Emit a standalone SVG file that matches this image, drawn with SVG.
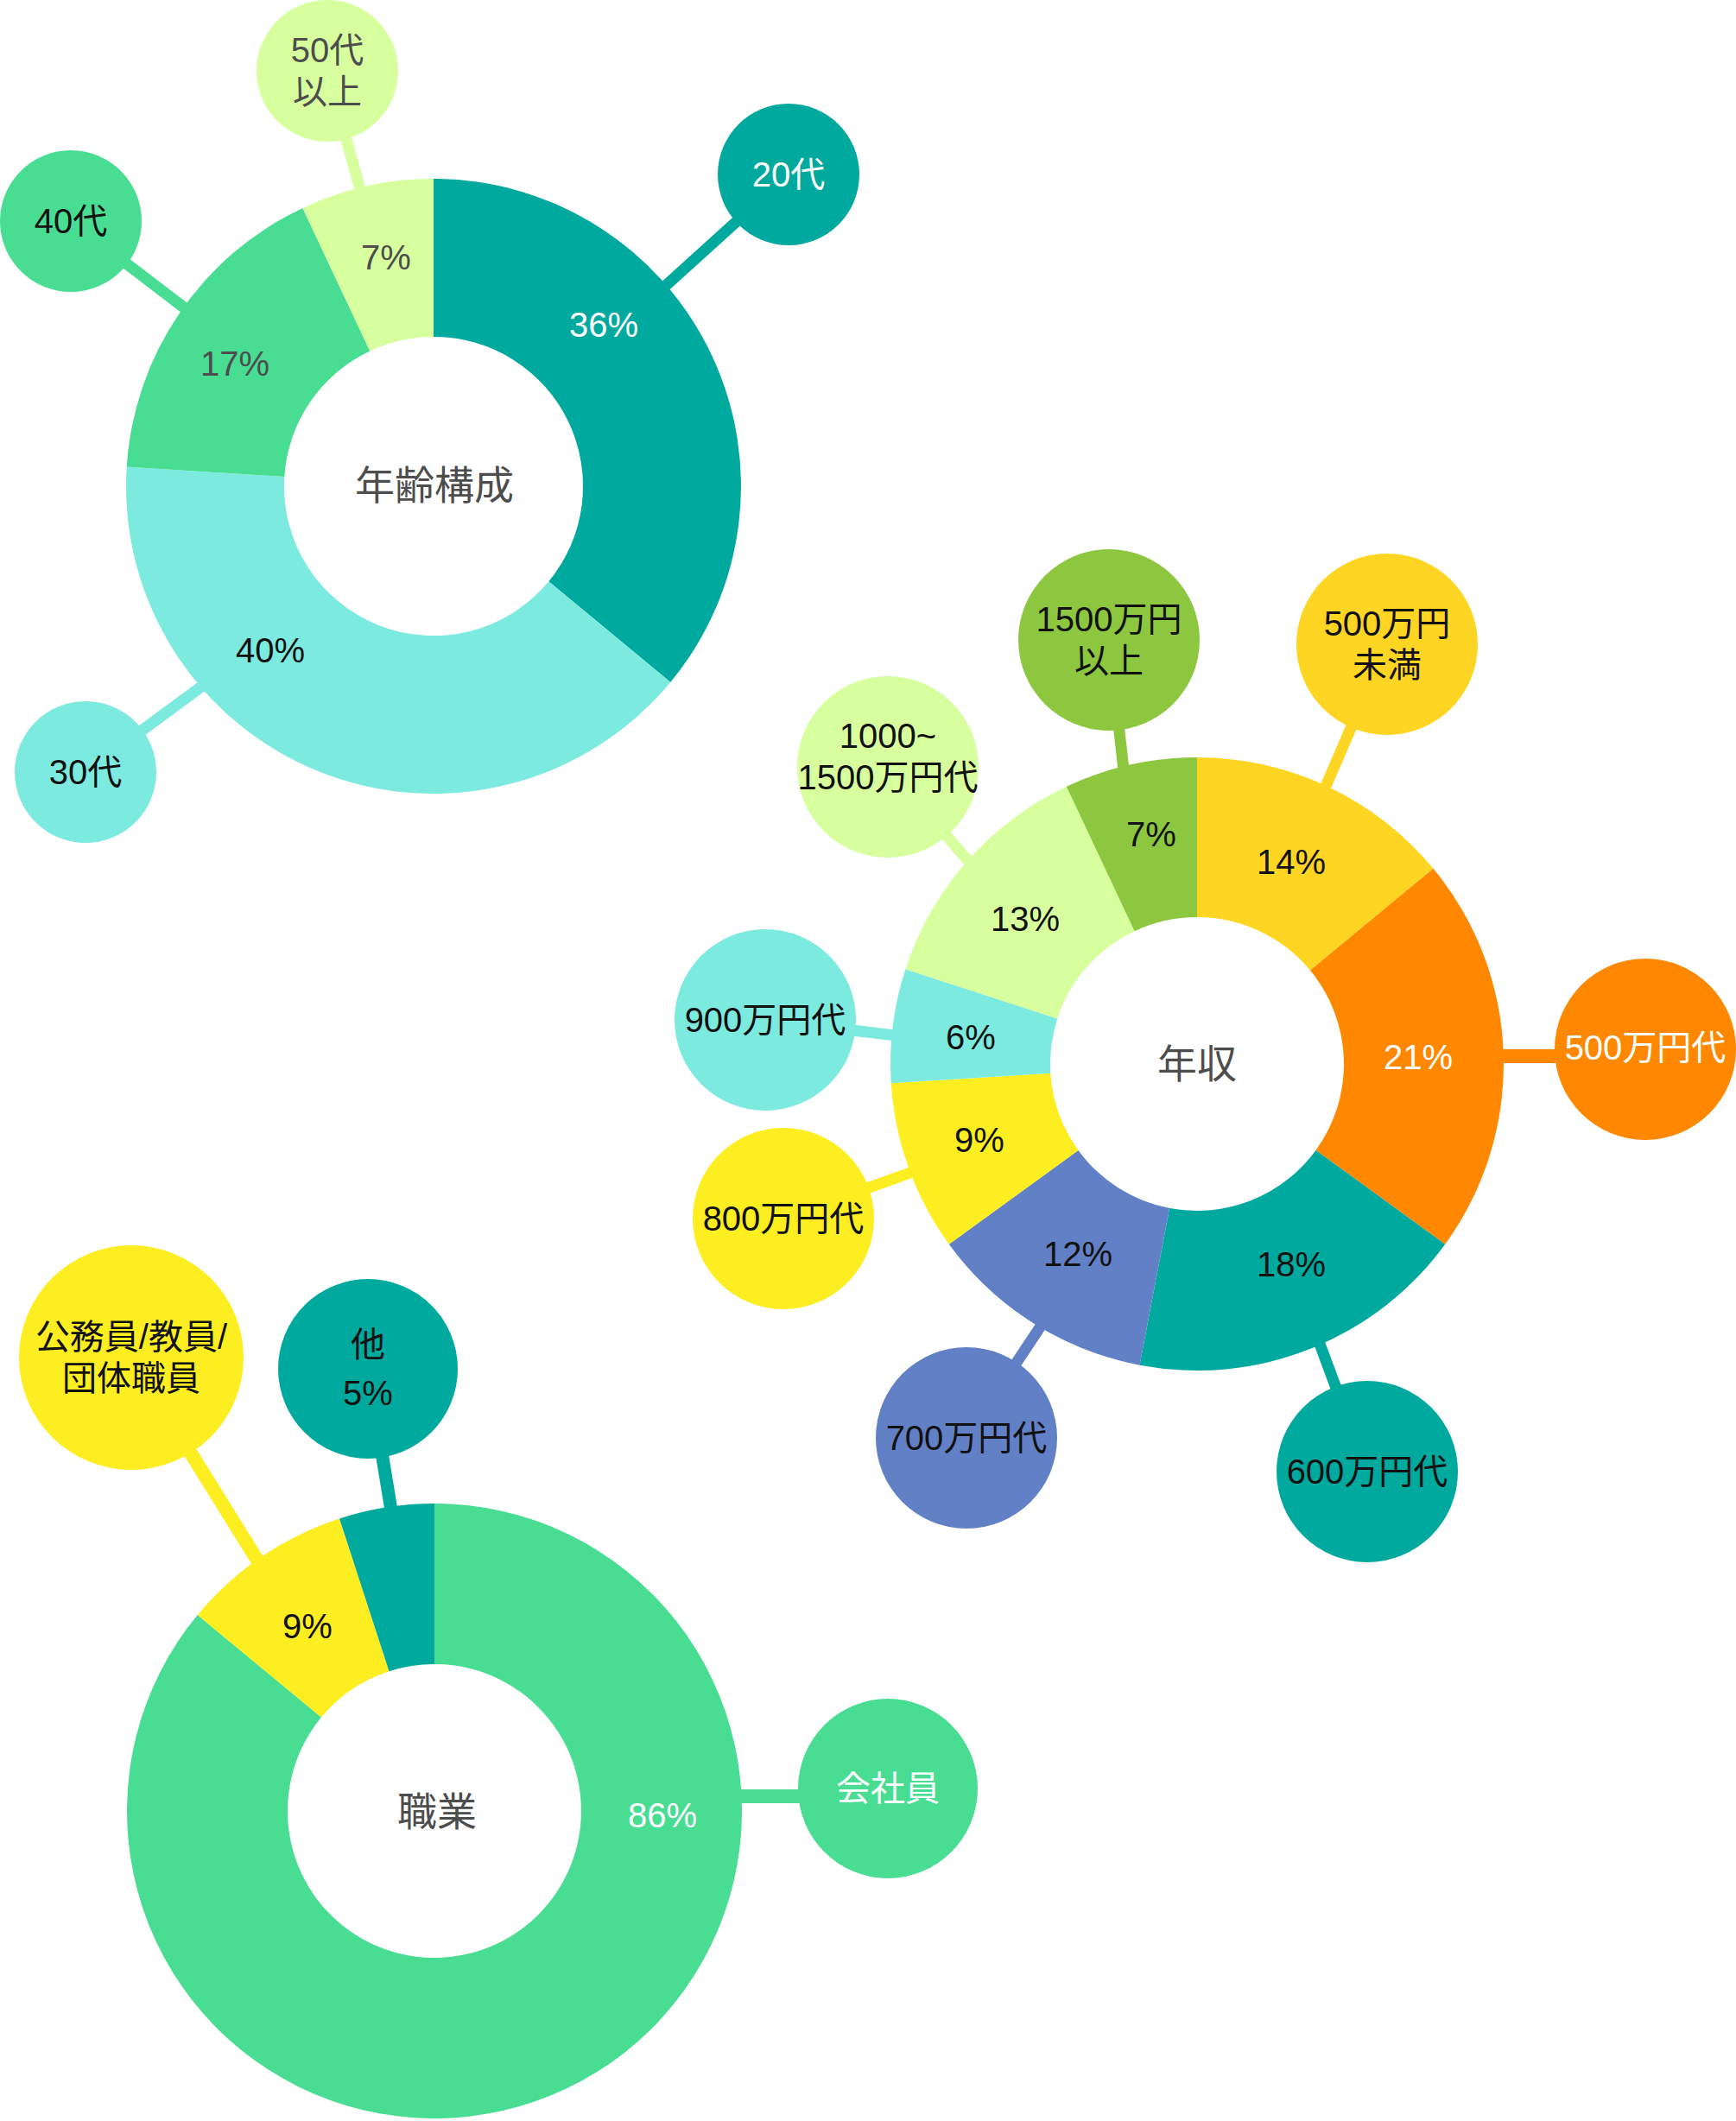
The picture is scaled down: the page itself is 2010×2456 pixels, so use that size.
<svg xmlns="http://www.w3.org/2000/svg" width="2010" height="2456" viewBox="0 0 2010 2456">
<style>
text{font-family:"Liberation Sans","Noto Sans CJK JP",sans-serif;font-size:40px;text-anchor:middle;dominant-baseline:central;fill:#111}
.g{fill:#4d4d4d}.w{fill:#fff}.c{font-size:46px;fill:#4d4d4d}
line{stroke-width:13}
</style>
<rect width="2010" height="2456" fill="#fff"/>
<g id="connectors">
<line x1="913" y1="202" x2="765" y2="336" stroke="#00A99D"/>
<line x1="379" y1="82" x2="420" y2="230" stroke="#D7FF9E"/>
<line x1="82" y1="256" x2="222" y2="363" stroke="#48DD93"/>
<line x1="99" y1="894" x2="240" y2="790" stroke="#7DEADF"/>
<line x1="1284" y1="741" x2="1302" y2="900" stroke="#8DC63F"/>
<line x1="1606" y1="746" x2="1530" y2="922" stroke="#FFD524"/>
<line x1="1028" y1="888" x2="1132" y2="1010" stroke="#D7FF9E"/>
<line x1="886" y1="1181" x2="1045" y2="1200" stroke="#7DEADF"/>
<line x1="907" y1="1411" x2="1065" y2="1354" stroke="#FCEE21"/>
<line x1="1119" y1="1665" x2="1210" y2="1528" stroke="#6280C6"/>
<line x1="1583" y1="1704" x2="1525" y2="1548" stroke="#00A99D"/>
<line x1="1905" y1="1223" x2="1730" y2="1223" stroke="#FF8800" style="stroke-width:16"/>
<line x1="426" y1="1585" x2="454" y2="1755" stroke="#00A99D" style="stroke-width:15"/>
<line x1="152" y1="1572" x2="305" y2="1818" stroke="#FCEE21" style="stroke-width:16"/>
<line x1="1028" y1="2080" x2="850" y2="2080" stroke="#48DD93" style="stroke-width:16"/>
</g>
<g id="age">
<path d="M502,207 A356,356 0 0 1 776.3,789.9 L635.3,673.3 A173,173 0 0 0 502,390 Z" fill="#00A99D"/>
<path d="M776.3,789.9 A356,356 0 0 1 146.7,540.6 L329.3,552.1 A173,173 0 0 0 635.3,673.3 Z" fill="#7DEADF"/>
<path d="M146.7,540.6 A356,356 0 0 1 350.4,240.9 L428.3,406.5 A173,173 0 0 0 329.3,552.1 Z" fill="#48DD93"/>
<path d="M350.4,240.9 A356,356 0 0 1 502,207 L502,390 A173,173 0 0 0 428.3,406.5 Z" fill="#D7FF9E"/>
<text x="699" y="376" class="w">36%</text>
<text x="447" y="298" class="g">7%</text>
<text x="272" y="421" class="g">17%</text>
<text x="313" y="753">40%</text>
<text x="503" y="562" class="c">年齢構成</text>
</g>
<g id="b20"><circle cx="913" cy="202" r="82" fill="#00A99D"/><text x="913" y="202" class="w">20代</text></g>
<g id="b50"><circle cx="379" cy="82" r="82" fill="#D7FF9E"/><text x="379" y="58" class="g">50代</text><text x="379" y="106" class="g">以上</text></g>
<g id="b40"><circle cx="82" cy="256" r="82" fill="#48DD93"/><text x="82" y="256">40代</text></g>
<g id="b30"><circle cx="99" cy="894" r="82" fill="#7DEADF"/><text x="99" y="894">30代</text></g>
<g id="income">
<path d="M1386,877 A355,355 0 0 1 1659.5,1005.7 L1517,1123.6 A170,170 0 0 0 1386,1062 Z" fill="#FFD524"/>
<path d="M1659.5,1005.7 A355,355 0 0 1 1673.2,1440.7 L1523.5,1331.9 A170,170 0 0 0 1517,1123.6 Z" fill="#FF8800"/>
<path d="M1673.2,1440.7 A355,355 0 0 1 1319.5,1580.7 L1354.1,1399 A170,170 0 0 0 1523.5,1331.9 Z" fill="#00A99D"/>
<path d="M1319.5,1580.7 A355,355 0 0 1 1098.8,1440.7 L1248.5,1331.9 A170,170 0 0 0 1354.1,1399 Z" fill="#6280C6"/>
<path d="M1098.8,1440.7 A355,355 0 0 1 1031.7,1254.3 L1216.3,1242.7 A170,170 0 0 0 1248.5,1331.9 Z" fill="#FCEE21"/>
<path d="M1031.7,1254.3 A355,355 0 0 1 1048.4,1122.3 L1224.3,1179.5 A170,170 0 0 0 1216.3,1242.7 Z" fill="#7DEADF"/>
<path d="M1048.4,1122.3 A355,355 0 0 1 1234.8,910.8 L1313.6,1078.2 A170,170 0 0 0 1224.3,1179.5 Z" fill="#D7FF9E"/>
<path d="M1234.8,910.8 A355,355 0 0 1 1386,877 L1386,1062 A170,170 0 0 0 1313.6,1078.2 Z" fill="#8DC63F"/>
<text x="1495" y="998">14%</text>
<text x="1642" y="1224" class="w">21%</text>
<text x="1495" y="1464">18%</text>
<text x="1248" y="1452">12%</text>
<text x="1134" y="1320">9%</text>
<text x="1124" y="1201">6%</text>
<text x="1187" y="1064">13%</text>
<text x="1333" y="966">7%</text>
<text x="1386" y="1232" class="c">年収</text>
</g>
<g id="i1500"><circle cx="1284" cy="741" r="105" fill="#8DC63F"/><text x="1284" y="717">1500万円</text><text x="1284" y="765">以上</text></g>
<g id="i500u"><circle cx="1606" cy="746" r="105" fill="#FFD524"/><text x="1606" y="722">500万円</text><text x="1606" y="770">未満</text></g>
<g id="i1000"><circle cx="1028" cy="888" r="105" fill="#D7FF9E"/><text x="1028" y="852">1000~</text><text x="1028" y="900">1500万円代</text></g>
<g id="i900"><circle cx="886" cy="1181" r="105" fill="#7DEADF"/><text x="886" y="1181">900万円代</text></g>
<g id="i800"><circle cx="907" cy="1411" r="105" fill="#FCEE21"/><text x="907" y="1411">800万円代</text></g>
<g id="i700"><circle cx="1119" cy="1665" r="105" fill="#6280C6"/><text x="1119" y="1665">700万円代</text></g>
<g id="i600"><circle cx="1583" cy="1704" r="105" fill="#00A99D"/><text x="1583" y="1704">600万円代</text></g>
<g id="i500"><circle cx="1905" cy="1215" r="105" fill="#FF8800"/><text x="1905" y="1213" class="w">500万円代</text></g>
<g id="job">
<path d="M503,1741 A356,356 0 1 1 228.7,1870.1 L372,1988.6 A170,170 0 1 0 503,1927 Z" fill="#48DD93"/>
<path d="M228.7,1870.1 A356,356 0 0 1 393,1758.4 L450.5,1935.3 A170,170 0 0 0 372,1988.6 Z" fill="#FCEE21"/>
<path d="M393,1758.4 A356,356 0 0 1 503,1741 L503,1927 A170,170 0 0 0 450.5,1935.3 Z" fill="#00A99D"/>
<text x="356" y="1883">9%</text>
<text x="767" y="2102" class="w">86%</text>
<text x="506" y="2098" class="c">職業</text>
</g>
<g id="jother"><circle cx="426" cy="1585" r="104" fill="#00A99D"/><text x="426" y="1557">他</text><text x="426" y="1613">5%</text></g>
<g id="jpub"><circle cx="152" cy="1572" r="130" fill="#FCEE21"/><text x="152" y="1548">公務員/教員/</text><text x="152" y="1596">団体職員</text></g>
<g id="jcomp"><circle cx="1028" cy="2071" r="104" fill="#48DD93"/><text x="1028" y="2071" class="w">会社員</text></g>
</svg>
